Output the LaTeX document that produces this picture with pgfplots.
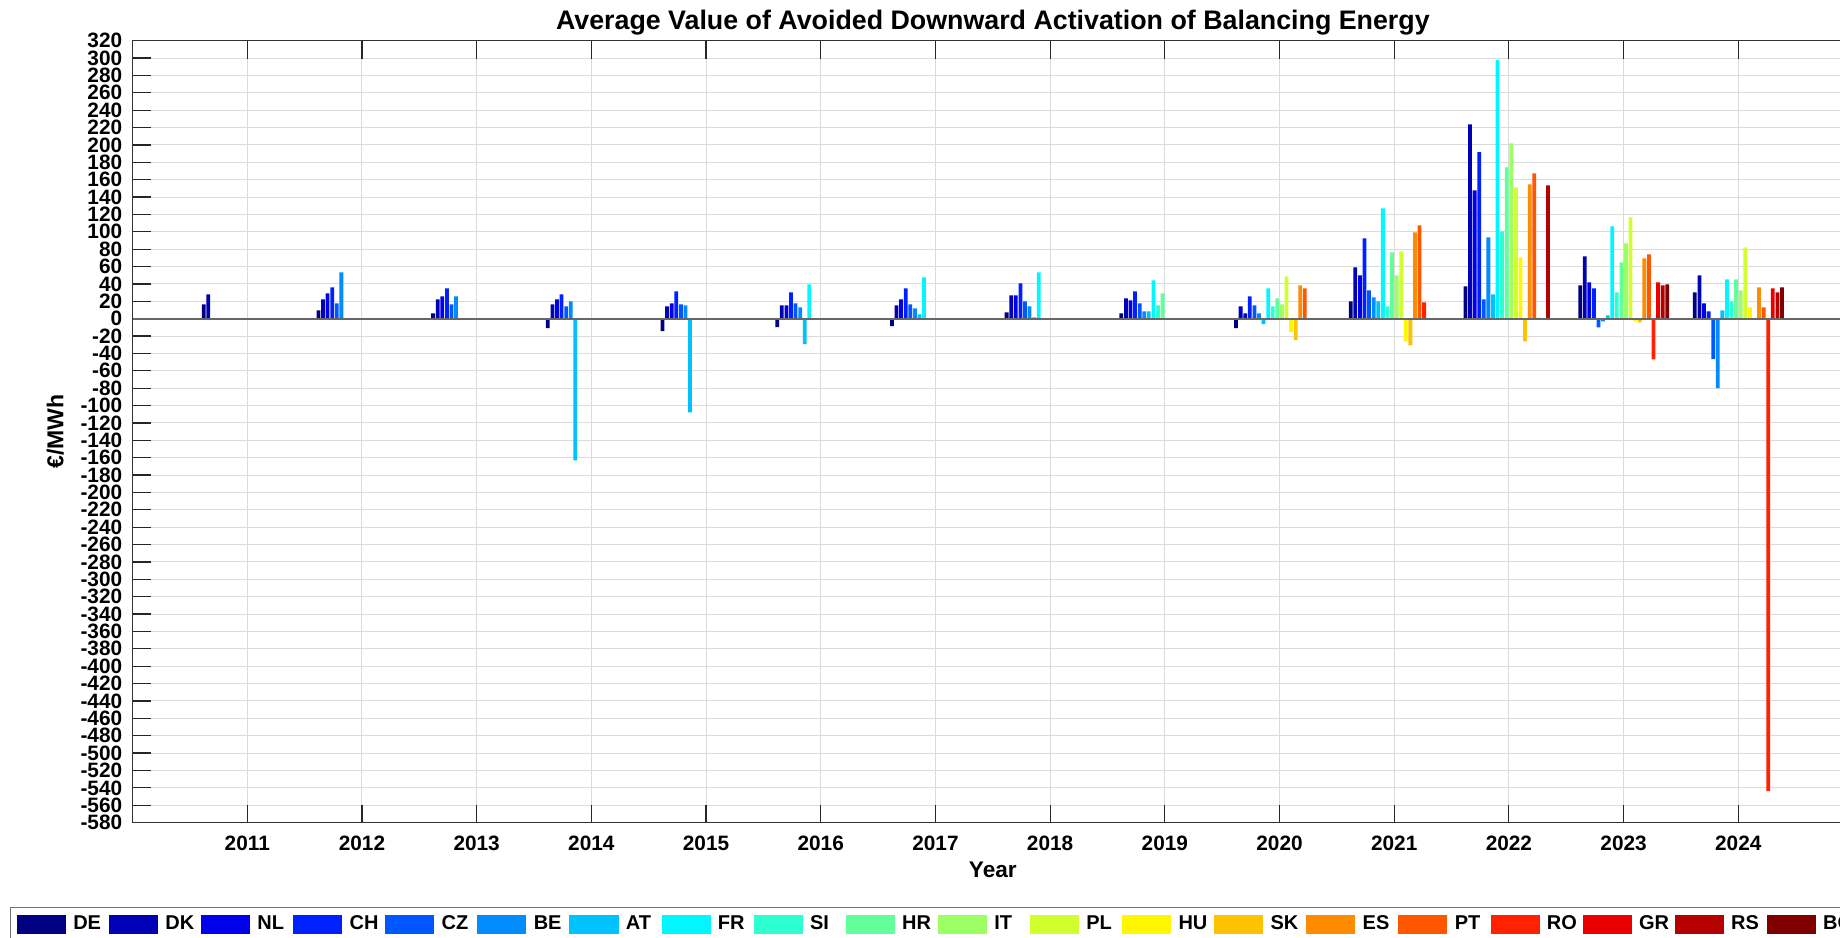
\documentclass[border=0pt]{standalone}
\usepackage{pgfplots}
\pgfplotsset{compat=1.18}
\usepackage{pgfplotstable}
\usepackage{fontspec}
\setmainfont{Liberation Sans}

\definecolor{cDE}{rgb}{0,0,0.5}
\definecolor{cDK}{rgb}{0,0,0.71}
\definecolor{cNL}{rgb}{0,0,0.92}
\definecolor{cCH}{rgb}{0,0.13,1}
\definecolor{cCZ}{rgb}{0,0.34,1}
\definecolor{cBE}{rgb}{0,0.55,1}
\definecolor{cAT}{rgb}{0,0.76,1}
\definecolor{cFR}{rgb}{0,0.97,1}
\definecolor{cSI}{rgb}{0.18,1,0.82}
\definecolor{cHR}{rgb}{0.39,1,0.61}
\definecolor{cIT}{rgb}{0.61,1,0.39}
\definecolor{cPL}{rgb}{0.82,1,0.18}
\definecolor{cHU}{rgb}{1,0.97,0}
\definecolor{cSK}{rgb}{1,0.76,0}
\definecolor{cES}{rgb}{1,0.55,0}
\definecolor{cPT}{rgb}{1,0.34,0}
\definecolor{cRO}{rgb}{1,0.13,0}
\definecolor{cGR}{rgb}{0.92,0,0}
\definecolor{cRS}{rgb}{0.71,0,0}
\definecolor{cBG}{rgb}{0.5,0,0}

\pgfplotstableread{
year DE DK NL CH CZ BE AT FR SI HR IT PL HU SK ES PT RO GR RS BG
2011 16.5 28.0 0 0 0 0 0 0 0 0 0 0 0 0 0 0 0 0 0 0
2012 9.6 22.3 29.2 36.1 17.7 53.4 0 0 0 0 0 0 0 0 0 0 0 0 0 0
2013 6.1 22.3 25.7 34.9 16.5 25.7 0 0 0 0 0 0 0 0 0 0 0 0 0 0
2014 -10.7 16.5 22.3 28.0 14.2 20.0 -163.2 0 0 0 0 0 0 0 0 0 0 0 0 0
2015 -14.2 14.2 17.7 31.5 16.5 15.4 -107.9 0 0 0 0 0 0 0 0 0 0 0 0 0
2016 -9.6 15.4 15.4 30.3 17.7 13.1 -29.2 39.5 0 0 0 0 0 0 0 0 0 0 0 0
2017 -8.4 15.4 22.3 34.9 16.5 11.9 5.0 47.6 0 0 0 0 0 0 0 0 0 0 0 0
2018 7.3 26.9 26.9 40.7 20.0 14.2 1.5 53.4 0 0 0 0 0 0 0 0 0 0 0 0
2019 6.1 23.4 21.1 31.5 17.7 8.4 8.4 44.1 15.4 29.2 0 0 0 0 0 0 0 0 0 0
2020 -10.7 14.2 6.1 25.7 15.4 6.1 -6.1 34.9 14.2 23.4 16.5 48.8 -15.4 -24.6 38.4 34.9 0 0 0 0
2021 20.0 59.1 49.9 92.5 32.6 24.6 20.0 127.1 14.2 76.4 49.9 77.5 -26.1 -30.7 99.4 107.5 18.8 0 0 0
2022 37.2 223.8 147.8 191.6 22.3 93.7 28.0 297.5 100.6 174.3 201.9 151.2 70.6 -26.0 154.7 167.4 1.0 0 153.6 0
2023 38.4 71.8 41.8 34.9 -10.0 -3.1 3.8 106.3 30.3 64.9 86.8 116.7 -3.1 -4.2 69.5 74.1 -46.8 41.8 38.4 39.5
2024 30.3 49.9 17.7 8.4 -46.4 -79.8 9.6 45.3 20.0 45.3 32.6 82.1 13.1 1.0 36.1 13.1 -543.7 34.9 30.3 36.1
}\datatable

\pgfplotsset{
  mybar/.style={fill=#1, draw=none, bar shift=0pt,
    legend image code/.code={\fill[fill=#1] (0pt,-4.65pt) rectangle (24.5pt,4.85pt);}},
}
\newcommand{\bars}[3]{%
  \addplot[mybar=#2] table[x expr=\thisrow{year}+(#3)*0.04, y=#1]{\datatable};
  \addlegendentry{\makebox[13.6pt][l]{#1}}%
}

\begin{document}
\begin{tikzpicture}
\useasboundingbox (0,0) rectangle (920pt,468.5pt);
\clip (0,0) rectangle (920pt,468.5pt);
\begin{axis}[
  at={(66.3pt,57.2pt)}, anchor=south west,
  scale only axis, width=860.25pt, height=390.95pt,
  xmin=2010, xmax=2025, ymin=-580, ymax=320,
  ybar, bar width=0.033, bar shift=0pt,
  xtick={2011,2012,...,2024}, ytick={-580,-560,...,320},
  ytick pos=left,
  tick align=inside, major tick length=9pt,
  tick style={black!85, line width=0.6pt},
  axis line style={black!80, line width=0.6pt},
  grid=major, major grid style={black!14, line width=0.5pt},
  /pgf/number format/assume math mode=true,
  /pgf/number format/1000 sep={},
  ticklabel style={font=\bfseries\fontsize{10.4}{10.4}\selectfont},
  xticklabel style={anchor=base, yshift=-13.9pt, inner sep=0pt},
  yticklabel style={anchor=east, xshift=-5pt, inner sep=0pt},
  title={Average Value of Avoided Downward Activation of Balancing Energy},
  title style={at={(axis description cs:0.5,1)}, anchor=base, yshift=-0.5pt, font=\bfseries\fontsize{13.4}{14}\selectfont},
  xlabel={Year},
  xlabel style={at={(axis description cs:0.5,0)}, anchor=base, yshift=-27.5pt, font=\bfseries\fontsize{11.3}{12}\selectfont},
  ylabel={€/MWh},
  ylabel style={at={(axis description cs:-0.04487,0.5)}, anchor=center, font=\bfseries\fontsize{11.5}{12}\selectfont},
  legend columns=20,
  legend style={at={(axis description cs:-0.07126,-0.10793)}, anchor=north west,
    draw=black!55, line width=0.5pt, inner xsep=3.2pt, inner ysep=3.6pt,
    font=\bfseries\fontsize{10}{10}\selectfont,
    /tikz/every odd column/.style={column sep=3.7pt},
    /tikz/every even column/.style={column sep=4.25pt},
    nodes={inner sep=0pt}},
]
\bars{DE}{cDE}{-9.5}
\bars{DK}{cDK}{-8.5}
\bars{NL}{cNL}{-7.5}
\bars{CH}{cCH}{-6.5}
\bars{CZ}{cCZ}{-5.5}
\bars{BE}{cBE}{-4.5}
\bars{AT}{cAT}{-3.5}
\bars{FR}{cFR}{-2.5}
\bars{SI}{cSI}{-1.5}
\bars{HR}{cHR}{-0.5}
\bars{IT}{cIT}{0.5}
\bars{PL}{cPL}{1.5}
\bars{HU}{cHU}{2.5}
\bars{SK}{cSK}{3.5}
\bars{ES}{cES}{4.5}
\bars{PT}{cPT}{5.5}
\bars{RO}{cRO}{6.5}
\bars{GR}{cGR}{7.5}
\bars{RS}{cRS}{8.5}
\bars{BG}{cBG}{9.5}
\draw[black!60, line width=0.8pt] (axis cs:2010,0) -- (axis cs:2025,0);
\end{axis}
\end{tikzpicture}
\end{document}
